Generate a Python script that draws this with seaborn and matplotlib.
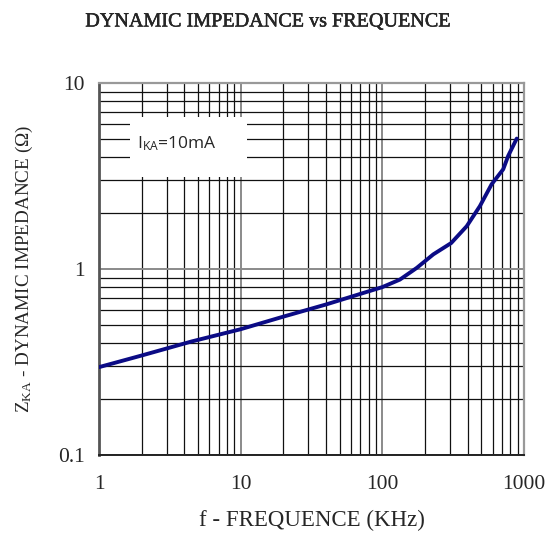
import matplotlib
matplotlib.use("Agg")
import matplotlib.pyplot as plt
import matplotlib.patheffects as pe
import seaborn as sns
import pandas as pd
from matplotlib.patches import Rectangle
from matplotlib.ticker import LogLocator, FixedLocator, FixedFormatter, NullFormatter

freq_khz = [1, 2, 4.5, 10, 20, 40, 100, 133, 175, 229, 306, 394, 488, 591, 713, 773, 888]
impedance = [0.297, 0.343, 0.408, 0.475, 0.555, 0.645, 0.80, 0.878, 1.015, 1.2, 1.38,
             1.70, 2.18, 2.86, 3.44, 4.06, 5.03]
x_ticks = [1, 10, 100, 1000]
x_ticklabels = ["1", "10", "100", "1000"]
y_ticks = [0.1, 1, 10]
y_ticklabels = ["0.1", "1", "10"]

sns.set_style("white")
plt.rcParams["font.family"] = ["Liberation Serif", "DejaVu Serif"]
plt.rcParams["mathtext.default"] = "regular"

df = pd.DataFrame({"f": freq_khz, "z": impedance})

fig = plt.figure(figsize=(5.47, 5.36), dpi=100)
ax = fig.add_axes([0.181, 0.151, 0.777, 0.694])

sns.lineplot(data=df, x="f", y="z", ax=ax, color="#0b0b85", linewidth=2.8, zorder=5)

ax.set_xscale("log")
ax.set_yscale("log")
ax.set_xlim(1, 1000)
ax.set_ylim(0.1, 10)

ax.xaxis.set_major_locator(FixedLocator(x_ticks))
ax.xaxis.set_major_formatter(FixedFormatter(x_ticklabels))
ax.yaxis.set_major_locator(FixedLocator(y_ticks))
ax.yaxis.set_major_formatter(FixedFormatter(y_ticklabels))
ax.xaxis.set_minor_locator(LogLocator(base=10, subs=range(2, 10)))
ax.yaxis.set_minor_locator(LogLocator(base=10, subs=range(2, 10)))
ax.xaxis.set_minor_formatter(NullFormatter())
ax.yaxis.set_minor_formatter(NullFormatter())

ax.grid(True, which="major", color="#8a8a8a", linewidth=1.4)
ax.grid(True, which="minor", color="#111111", linewidth=0.9)
ax.set_axisbelow(True)

ax.tick_params(axis="both", which="both", length=0, labelsize=15.5, pad=14)
ax.tick_params(axis="y", pad=10)

for side in ["top", "right"]:
    ax.spines[side].set_color("#999999")
    ax.spines[side].set_linewidth(1.6)
ax.spines["left"].set_color("#555555")
ax.spines["left"].set_linewidth(2.0)
ax.spines["bottom"].set_color("#222222")
ax.spines["bottom"].set_linewidth(1.4)

ax.set_xlabel("f - FREQUENCE (KHz)", fontsize=16.5, labelpad=12)
ax.set_ylabel(r"Z$_{\mathregular{KA}}$ - DYNAMIC IMPEDANCE (Ω)", fontsize=13.8, labelpad=17)

fig.text(0.489, 0.959, "DYNAMIC IMPEDANCE vs FREQUENCE", ha="center", va="center",
         fontsize=14.5, fontweight="normal",
         path_effects=[pe.withStroke(linewidth=0.3, foreground="black")])

ax.add_patch(Rectangle((0.073, 0.747), 0.275, 0.162, transform=ax.transAxes,
                       facecolor="white", edgecolor="none", zorder=4))
ax.text(0.089, 0.836, r"I$_{\mathregular{KA}}$=10mA", transform=ax.transAxes,
        fontsize=12.5, family=["Open Sans", "DejaVu Sans"], va="center", ha="left",
        zorder=6)

fig.savefig("out.png", dpi=100)
